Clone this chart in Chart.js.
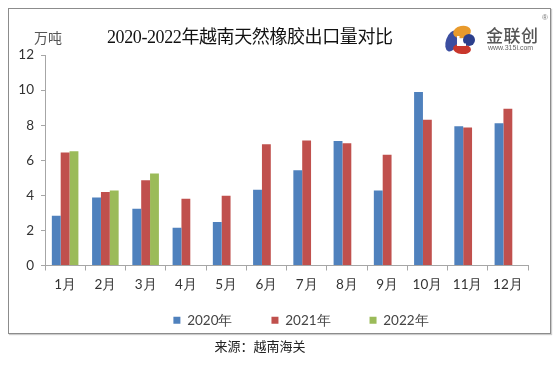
<!DOCTYPE html>
<html>
<head>
<meta charset="utf-8">
<script src="https://cdn.jsdelivr.net/npm/chart.js@4.4.1/dist/chart.umd.min.js"></script>
<style>
    html, body { margin: 0; padding: 0; background: #fff; }
    #wrap { position: relative; width: 560px; height: 366px; overflow: hidden; }
    #frame { position: absolute; left: 8px; top: 8px; width: 541px; height: 324px; border: 1px solid #8c8c8c; box-shadow: 1px 1px 1px #ccc; }
    canvas { position: absolute; left: 0; top: 0; }
    .txt { position: absolute; white-space: nowrap; }
    #unit { left: 34px; top: 27px; font: 14px "Noto Sans CJK SC"; color: #555; }
    #title { left: 107px; top: 22px; font: 18px "Liberation Serif", "Noto Sans CJK SC"; color: #111; letter-spacing: -0.4px; }
    #brand { left: 486px; top: 22px; font: 500 17px "Noto Sans CJK SC"; color: #555; letter-spacing: 0.5px; }
    #site { left: 488px; top: 44px; font: 7px "Liberation Sans"; color: #666; }
    #reg { left: 542px; top: 13px; font: 8px "Liberation Sans"; color: #777; }
    #source { left: 0; width: 520px; top: 336px; text-align: center; font: 13px "Noto Sans CJK SC"; color: #222; }
</style>
</head>
<body>
<div id="wrap">
    <div id="frame"></div>
    <canvas id="rubberChart" width="560" height="366"></canvas>
    <div class="txt" id="unit">万吨</div>
    <div class="txt" id="title">2020-2022年越南天然橡胶出口量对比</div>
    <div class="txt" id="brand">金联创</div>
    <div class="txt" id="site">www.315i.com</div>
    <div class="txt" id="reg">®</div>
    <div class="txt" id="source">来源：越南海关</div>
</div>
<script>
const months = ['1月', '2月', '3月', '4月', '5月', '6月', '7月', '8月', '9月', '10月', '11月', '12月'];
const exports2020 = [2.84, 3.87, 3.24, 2.15, 2.48, 4.32, 5.43, 7.10, 4.27, 9.89, 7.94, 8.11];
const exports2021 = [6.44, 4.19, 4.86, 3.81, 3.98, 6.91, 7.12, 6.97, 6.32, 8.31, 7.87, 8.93];
const exports2022 = [6.51, 4.27, 5.24];
const yTicks = [0, 2, 4, 6, 8, 10, 12];

const axisColor = '#a6a6a6';
const labelFont = { family: 'Lato', size: 13.5 };

// small logo drawn next to the brand text
const logoPlugin = {
    id: 'logo',
    afterDraw(chart) {
        const c = chart.ctx;
        c.save();
        c.fillStyle = '#3b4ea0';
        c.beginPath();
        c.ellipse(452, 41, 6, 11, 0.35, 0, Math.PI * 2);
        c.fill();
        c.fillStyle = '#e89a2c';
        c.beginPath();
        c.ellipse(462, 32, 9, 6, -0.2, 0, Math.PI * 2);
        c.fill();
        c.fillStyle = '#c9372c';
        c.beginPath();
        c.ellipse(462, 49, 9, 5, 0.1, 0, Math.PI * 2);
        c.fill();
        c.fillStyle = '#2c3f8c';
        c.beginPath();
        c.arc(469, 40, 6, 0, Math.PI * 2);
        c.fill();
        c.fillStyle = '#fff';
        c.fillRect(457, 36, 2.5, 10);
        c.fillRect(457, 43.5, 9, 2.5);
        c.restore();
    }
};

// move the legend a bit to sit where the original one does
const legendShift = {
    id: 'legendShift',
    afterLayout(chart) {
        const lg = chart.legend;
        const dx = 33, dy = -25;
        lg.left += dx; lg.right += dx;
        lg.top += dy; lg.bottom += dy;
    }
};

const ctx = document.getElementById('rubberChart').getContext('2d');
const rubberChart = new Chart(ctx, {
    type: 'bar',
    data: {
        labels: months,
        datasets: [
            { label: '2020年', data: exports2020, backgroundColor: '#4f81bd' },
            { label: '2021年', data: exports2021, backgroundColor: '#c0504d' },
            { label: '2022年', data: exports2022, backgroundColor: '#9bbb59' }
        ]
    },
    options: {
        responsive: false,
        animation: false,
        events: [],
        layout: {
            padding: { left: 8, right: 32, top: 55, bottom: 4 }
        },
        datasets: {
            bar: { categoryPercentage: 0.66, barPercentage: 1 }
        },
        plugins: {
            tooltip: { enabled: false },
            legend: {
                position: 'bottom',
                labels: {
                    font: labelFont,
                    color: '#444',
                    boxWidth: 7,
                    boxHeight: 7,
                    padding: 39
                }
            }
        },
        scales: {
            x: {
                grid: {
                    display: true,
                    drawOnChartArea: false,
                    offset: true,
                    color: axisColor,
                    tickLength: 5
                },
                border: { color: axisColor },
                ticks: { font: labelFont, color: '#333', padding: 6 },
                afterFit(scale) { scale.height = 34; }
            },
            y: {
                min: 0,
                max: 12,
                afterBuildTicks(scale) { scale.ticks = yTicks.map(v => ({ value: v })); },
                grid: {
                    display: true,
                    drawOnChartArea: false,
                    color: axisColor,
                    tickLength: 4
                },
                border: { color: axisColor },
                ticks: { font: labelFont, color: '#333', padding: 7 },
                afterFit(scale) { scale.width = 37; }
            }
        }
    },
    plugins: [logoPlugin, legendShift]
});
</script>
</body>
</html>
